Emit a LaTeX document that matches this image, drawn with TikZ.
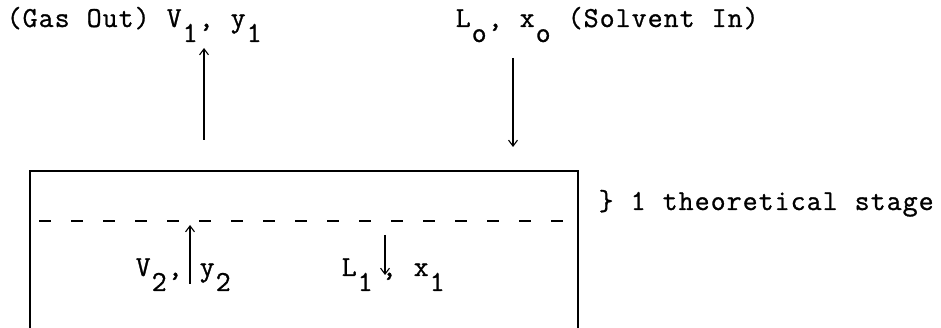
\documentclass[tikz,border=0pt]{standalone}
\usepackage{fontspec}
\newfontfamily\tw[FakeBold=1]{Latin Modern Mono}
\usetikzlibrary{arrows.meta}
\newcommand{\sbx}[1]{\raisebox{-15pt}{#1}}
\makeatletter
\newcommand\tws[1]{\@tfor\tw@c:=#1\do{\makebox[16pt]{\tw@c}}}
\makeatother
\begin{document}
\begin{tikzpicture}[x=1pt,y=-1pt,
  lbl/.style={anchor=base west,inner sep=0pt,font=\tw\fontsize{29}{32}\selectfont},
  flow/.style={line width=1.1pt,-{Straight Barb[length=6pt,width=9pt]}},
  wall/.style={line width=1.5pt},
  tray/.style={line width=1.4pt,dash pattern=on 12pt off 20pt}]
\useasboundingbox (0,0) rectangle (941,328);
% labels
\node[lbl] (gasout) at (6,27) {\tws{(Gas~Out)~V{\sbx{1}},~y{\sbx{1}}}};
\node[lbl] (solvin) at (455,27) {\tws{L{\sbx{o}},~x{\sbx{o}}~(Solvent~In)}};
\node[lbl] (stage) at (598,210) {\tws{\}~1~theoretical~stage}};
\node[lbl] (vtwo) at (135,276) {\tws{V{\sbx{2}},~y{\sbx{2}}}};
\node[lbl] (lone) at (341,276) {\tws{L{\sbx{1}}}\hspace{8pt}\tws{,~x{\sbx{1}}}};
% box
\coordinate (bl) at (30,328);
\coordinate (tl) at (30,171);
\coordinate (tr) at (578,171);
\coordinate (br) at (578,328);
\draw[wall] (bl) -- (tl) -- (tr) -- (br);
\coordinate (dl) at (39,221);
\coordinate (dr) at (570,221);
\draw[tray] (dl) -- (dr);
% flows
\coordinate (v1s) at (204,140);
\coordinate (v1e) at (204,48);
\draw[flow] (v1s) -- (v1e);
\coordinate (l0s) at (513,58);
\coordinate (l0e) at (513,147);
\draw[flow] (l0s) -- (l0e);
\coordinate (v2s) at (190,284);
\coordinate (v2e) at (190,225);
\draw[flow] (v2s) -- (v2e);
\coordinate (l1s) at (385,235);
\coordinate (l1e) at (385,275);
\draw[flow] (l1s) -- (l1e);
\end{tikzpicture}
\end{document}
